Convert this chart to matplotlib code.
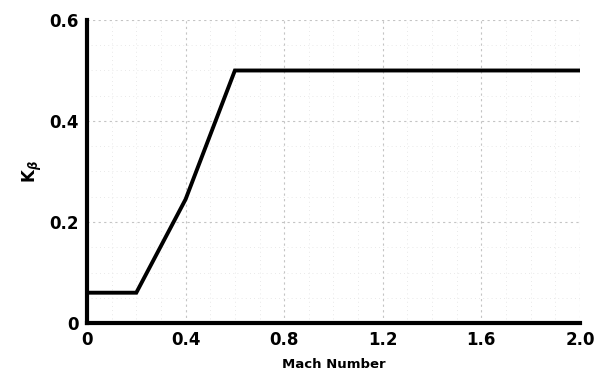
import numpy as np
import matplotlib
matplotlib.use('Agg')
import matplotlib.pyplot as plt
from matplotlib.ticker import MultipleLocator

# K-beta vs Mach number
mach = [0.0, 0.2, 0.4, 0.6, 2.0]
k_beta = [0.06, 0.06, 0.245, 0.5, 0.5]

x_ticks = [0, 0.4, 0.8, 1.2, 1.6, 2.0]
x_labels = ['0', '0.4', '0.8', '1.2', '1.6', '2.0']
y_ticks = [0, 0.2, 0.4, 0.6]
y_labels = ['0', '0.2', '0.4', '0.6']

plt.rcParams['font.family'] = ['DejaVu Sans']
plt.rcParams['font.weight'] = 'bold'

fig = plt.figure(figsize=(5.96, 3.92), dpi=100)
ax = fig.add_axes([0.146, 0.176, 0.827, 0.773])

ax.plot(mach, k_beta, color='black', linewidth=2.8, solid_joinstyle='miter')

ax.set_xlim(0, 2.0)
ax.set_ylim(0, 0.6)
ax.set_xticks(x_ticks)
ax.set_xticklabels(x_labels, fontsize=12, fontweight='bold')
ax.set_yticks(y_ticks)
ax.set_yticklabels(y_labels, fontsize=12, fontweight='bold')
ax.xaxis.set_minor_locator(MultipleLocator(0.1))
ax.yaxis.set_minor_locator(MultipleLocator(0.05))
ax.tick_params(length=0, which='both', pad=6)

ax.grid(which='major', color='#c4c4c4', linestyle=(0, (2, 3)), linewidth=0.8)
ax.grid(which='minor', color='#e2e2e2', linestyle=(0, (1, 4)), linewidth=0.6)

for side in ['top', 'right']:
    ax.spines[side].set_visible(False)
for side in ['left', 'bottom']:
    ax.spines[side].set_linewidth(3)

ax.set_xlabel('Mach Number', fontsize=9.5, fontweight='bold', labelpad=6)
ax.set_ylabel(r'K$_{\beta}$', fontsize=12, fontweight='bold', labelpad=4)

fig.savefig('out.png', dpi=100)
